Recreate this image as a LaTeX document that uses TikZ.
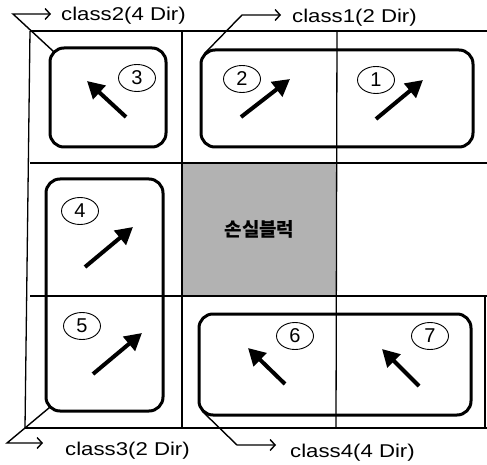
\documentclass[tikz,border=0pt]{standalone}
\usepackage{fontspec}
\setmainfont{Liberation Sans}
\newfontfamily\krfont{Noto Sans CJK KR}
\usetikzlibrary{arrows.meta,shapes.geometric}
\newcommand\lbltxt[1]{\scalebox{1.2}[1]{#1}}
\begin{document}
\begin{tikzpicture}[x=1pt,y=-1pt,
  grid/.style={line width=1.3pt},
  rbox/.style={draw, line width=3pt, rounded corners=14pt, inner sep=0pt},
  num/.style={draw, ellipse, line width=0.9pt, minimum width=37pt, minimum height=27pt, inner sep=0pt, font=\fontsize{20}{20}\selectfont},
  dirarrow/.style={line width=4pt, -{Triangle[length=17pt,width=18pt]}},
  lab/.style={line width=1.4pt, -{Straight Barb[length=5pt,width=11pt]}},
  labtext/.style={anchor=base west, inner sep=0pt, font=\fontsize{18.5}{18.5}\selectfont}
]
\useasboundingbox (0,0) rectangle (487,465);

% lost block cell
\node[fill=black!30, minimum width=155pt, minimum height=133pt, inner sep=0pt, font=\krfont\bfseries\fontsize{19}{19}\selectfont] (lost) at (259.5,229.5) {손실블럭};

% grid
\draw[grid] (30,31) -- (487,31);
\draw[grid] (30,163) -- (487,163);
\draw[grid] (30,296) -- (487,296);
\draw[grid] (25,428) -- (487,428);
\draw[grid] (30,31) -- (25,428);
\draw[grid] (182,31) -- (182,428);
\draw[grid] (337,31) -- (336,428);
\draw[grid] (485,296) -- (485,428);

% rounded class boxes
\node[rbox, minimum width=116pt, minimum height=99pt] (b3) at (108,97.5) {};
\node[rbox, minimum width=272pt, minimum height=97pt] (b12) at (337,98.5) {};
\node[rbox, minimum width=117pt, minimum height=232pt] (b45) at (104.5,295) {};
\node[rbox, minimum width=272pt, minimum height=101pt] (b67) at (335,364.5) {};

% numbers
\node[num] (n3) at (137,78) {3};
\node[num] (n2) at (242,79) {2};
\node[num] (n1) at (376,80) {1};
\node[num] (n4) at (80,211) {4};
\node[num] (n5) at (82,326) {5};
\node[num] (n6) at (295,336) {6};
\node[num] (n7) at (430,336) {7};

% direction arrows
\draw[dirarrow] (126,117) -- (87,81);
\draw[dirarrow] (241,117) -- (290,79);
\draw[dirarrow] (376,119) -- (423,80);
\draw[dirarrow] (85,267) -- (133,227);
\draw[dirarrow] (93,374) -- (142,333);
\draw[dirarrow] (285,384) -- (248,348);
\draw[dirarrow] (419,386) -- (382,349);

% labels
\node[labtext] (t2) at (61,21) {\lbltxt{class2(4 Dir)}};
\node[labtext] (t1) at (292,23) {\lbltxt{class1(2 Dir)}};
\node[labtext] (t3) at (65,455) {\lbltxt{class3(2 Dir)}};
\node[labtext] (t4) at (290,457) {\lbltxt{class4(4 Dir)}};

\coordinate (c2) at (13,14);  \coordinate (e2) at (51,14);
\coordinate (c1) at (242,15); \coordinate (e1) at (281,15);
\coordinate (c3) at (7,443);  \coordinate (e3) at (43,443);
\coordinate (c4) at (237,445); \coordinate (e4) at (276,445);

\draw[lab] ([shift={(5,5)}]b3.north west) -- (c2) -- (e2);
\draw[lab] ([shift={(5,5)}]b12.north west) -- (c1) -- (e1);
\draw[lab] ([shift={(5,-5)}]b45.south west) -- (c3) -- (e3);
\draw[lab] ([shift={(5,-5)}]b67.south west) -- (c4) -- (e4);
\end{tikzpicture}
\end{document}
